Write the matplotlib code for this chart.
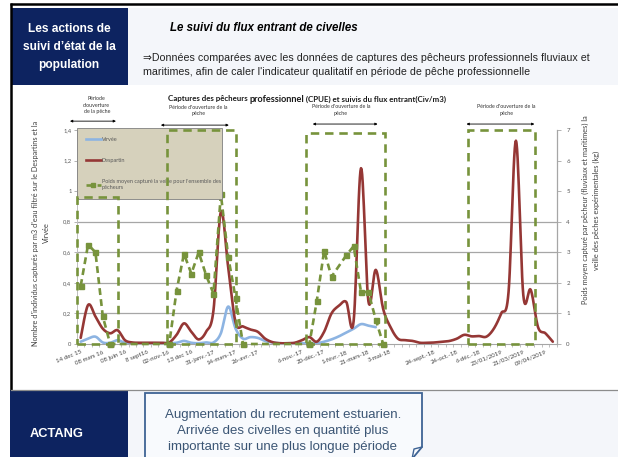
import numpy as np
import matplotlib
matplotlib.use("Agg")
import matplotlib.pyplot as plt
from matplotlib.patches import Rectangle, Polygon
from matplotlib.lines import Line2D

# ---------------- data ----------------
# category labels (one label every third sampling date, some left blank)
date_labels = ["14 dec 15", "08 mars 16", "08 juin 16", "8 sept16", "02-nov-16",
               "13 dec 16", "31-janv.-17", "14-mars-17", "26-avr.-17", "",
               "6-nov.-17", "20-déc.-17", "1-févr.-18", "21-mars-18", "3-mai-18",
               "", "24-sept.-18", "24-oct.-18", "6-déc.-18", "23/01/2019",
               "21/03/2019", "09/04/2019"]
label_step = 3

# glass eels per m3 filtered - Despartins
despartin = [0.04, 0.255, 0.18, 0.10, 0.07, 0.09, 0.025, 0.01, 0.008, 0.008,
             0.008, 0.008, 0.01, 0.06, 0.135, 0.08, 0.03, 0.08, 0.22, 0.865,
             0.50, 0.14, 0.115, 0.095, 0.08, 0.035, 0.012, 0.005, 0.005, 0.008,
             0.025, 0.045, 0.015, 0.08, 0.20, 0.25, 0.275, 0.15, 1.15, 0.28,
             0.485, 0.23, 0.11, 0.035, 0.025, 0.02, 0.008, 0.008, 0.01, 0.015,
             0.02, 0.035, 0.06, 0.05, 0.052, 0.048, 0.10, 0.20, 0.34, 1.33,
             0.32, 0.355, 0.11, 0.07, 0.015]

# glass eels per m3 filtered - Virvée
nan = np.nan
virvee = [0.015, 0.035, 0.048, 0.01, 0.008, 0.025, 0.008, 0.005, 0.005, 0.005,
          0.005, 0.005, 0.005, 0.008, 0.02, 0.008, 0.005, 0.01, 0.01, 0.07,
          0.245, 0.10, 0.035, 0.045, 0.04, 0.02, 0.01, 0.005, 0.005, 0.005,
          0.005, 0.005, 0.005, 0.015, 0.03, 0.05, 0.075, 0.10, 0.13, 0.12,
          0.11, nan, nan, nan, nan, nan, nan, nan, nan, nan,
          nan, nan, nan, nan, nan, nan, nan, nan, nan, nan,
          nan, nan, nan, nan, nan]

# mean catch per fisher the day before (kg)
poids = [1.9, 3.25, 3.0, 0.9, 0.0, nan, nan, nan, nan, nan,
         nan, nan, 0.0, 1.75, 2.95, 2.3, 3.0, 2.25, 1.65, 4.9,
         2.85, 1.5, 0.0, nan, nan, nan, nan, nan, nan, nan,
         nan, 0.0, 1.4, 3.05, 2.2, nan, 2.9, 3.2, 1.7, 1.7,
         0.8, 0.0, nan, nan, nan, nan, nan, nan, nan, nan,
         nan, nan, nan, nan, nan, nan, nan, nan, nan, nan,
         nan, nan, nan, nan, nan]

# professional fishing seasons (category bounds, left-axis height)
season_start = [-0.5, 11.65, 30.5, 52.5]
season_end = [5.1, 21.1, 41.25, 61.6]
season_top = [0.96, 1.4, 1.38, 1.4]

left_ticks = [0, 0.2, 0.4, 0.6, 0.8, 1.0, 1.2, 1.4]
right_ticks = [0, 1, 2, 3, 4, 5, 6, 7]
grid_levels = [0.2, 0.4, 0.6, 0.8]

# ---------------- style ----------------
NAVY = "#0D2360"
PALE = "#F4F6FA"
RED = "#953735"
BLUE = "#8DB4E2"
GREEN = "#77933C"
GREY_TXT = "#595959"
SLIDE_FONT = ["Liberation Sans", "DejaVu Sans"]
CHART_FONT = ["Lato", "DejaVu Sans"]


def smooth_runs(y, steps=14):
    """Bezier smoothing between consecutive points (spreadsheet-style)."""
    y = np.asarray(y, float)
    x = np.arange(len(y), dtype=float)
    ok = ~np.isnan(y)
    xs_all, ys_all = [], []
    idx = np.where(ok)[0]
    if len(idx) == 0:
        return np.array([]), np.array([])
    runs = np.split(idx, np.where(np.diff(idx) != 1)[0] + 1)
    t = np.linspace(0, 1, steps)[:, None]
    for run in runs:
        P = np.column_stack([x[run], y[run]])
        n = len(P)
        pts = [P[:1]]
        for i in range(n - 1):
            p0 = P[i - 1] if i > 0 else P[i]
            p1, p2 = P[i], P[i + 1]
            p3 = P[i + 2] if i + 2 < n else P[i + 1]
            c1 = p1 + (p2 - p0) / 6.0
            c2 = p2 - (p3 - p1) / 6.0
            seg = ((1 - t) ** 3) * p1 + 3 * ((1 - t) ** 2) * t * c1 \
                + 3 * (1 - t) * t ** 2 * c2 + t ** 3 * p2
            pts.append(seg[1:])
        pts = np.vstack(pts)
        xs_all.append(pts[:, 0]); ys_all.append(pts[:, 1])
        xs_all.append([np.nan]); ys_all.append([np.nan])
    return np.concatenate(xs_all), np.concatenate(ys_all)


fig = plt.figure(figsize=(6.18, 4.57), dpi=100)
fig.patch.set_facecolor("white")

# slide background layer in pixel units
bg = fig.add_axes([0, 0, 1, 1])
bg.set_xlim(0, 618)
bg.set_ylim(457, 0)
bg.axis("off")
bg.set_zorder(0)

bg.add_patch(Rectangle((128, 8), 490, 77, color=PALE, lw=0))
bg.add_patch(Rectangle((12, 8), 116, 77, color=NAVY, lw=0))
bg.add_patch(Rectangle((128, 390), 490, 67, color=PALE, lw=0))
bg.add_patch(Rectangle((10, 390), 118, 67, color=NAVY, lw=0))
bg.plot([10, 618], [3.5, 3.5], color="black", lw=1.8, solid_capstyle="butt")
bg.plot([11, 11], [3, 390], color="black", lw=1.8, solid_capstyle="butt")
bg.plot([11, 618], [389.5, 389.5], color="#8C8C8C", lw=0.9)

bg.text(69, 47, "Les actions de\nsuivi d’état de la\npopulation", color="white",
        weight="bold", fontsize=8.6, ha="center", va="center", linespacing=1.72,
        family=SLIDE_FONT)
bg.text(170, 28, "Le suivi du flux entrant de civelles", weight="bold",
        style="italic", fontsize=8.3, ha="left", va="center", family=SLIDE_FONT)
bg.text(143, 65, "⇒Données comparées avec les données de captures des pêcheurs "
        "professionnels fluviaux et\nmaritimes, afin de caler l'indicateur "
        "qualitatif en période de pêche professionnelle",
        fontsize=7.7, ha="left", va="center", linespacing=1.5, color="#222222",
        family=SLIDE_FONT)

bg.text(30, 434, "ACTANG", color="white", weight="bold", fontsize=9.3,
        ha="left", va="center", family=SLIDE_FONT)
bg.add_patch(Polygon([(145, 393), (422, 393), (422, 447), (412, 459), (145, 459)],
                     closed=True, facecolor="#F8FAFD", edgecolor="#3E6394", lw=1.3))
bg.plot([412, 414, 422], [459, 449, 447], color="#3E6394", lw=1.0)
bg.text(283, 431, "Augmentation du recrutement estuarien.\nArrivée des civelles en "
        "quantité plus\nimportante sur une plus longue période", color="#3B5574",
        fontsize=9.5, ha="center", va="center", linespacing=1.4, family=SLIDE_FONT)

# axis titles
bg.text(41, 233, "Nombre d'individus capturés par m3 d'eau filtré sur le Despartins et la\nVirvée",
        rotation=90, ha="center", va="center", fontsize=5.3, color="#404040",
        linespacing=1.7, family=CHART_FONT)
bg.text(591, 210, "Poids moyen capturé par pêcheur (fluviaux et maritimes) la\n"
        "veille des pêches expérimentales (kg)",
        rotation=90, ha="center", va="center", fontsize=5.3, color="#404040",
        linespacing=1.5, family=CHART_FONT)

# ---------------- chart ----------------
n = len(despartin)
x = np.arange(n)
ax = fig.add_axes([77 / 618, 1 - 344 / 457, 479.5 / 618, 214 / 457])
ax.set_zorder(1)
ax.patch.set_visible(False)
ax.set_xlim(-0.5, n - 0.5)
ax.set_ylim(0, 1.4)

for g in grid_levels:
    ax.axhline(g, color="#A6A6A6", lw=0.9, zorder=0)

xs, ys = smooth_runs(virvee)
ax.plot(xs, ys, color=BLUE, lw=1.9, zorder=2, solid_capstyle="round")
xs, ys = smooth_runs(despartin)
ax.plot(xs, ys, color=RED, lw=1.9, zorder=3, solid_capstyle="round")

for s in ["top", "right"]:
    ax.spines[s].set_visible(False)
ax.spines["left"].set_color("#BFBFBF")
ax.spines["left"].set_linewidth(0.7)
ax.spines["bottom"].set_color("#A6A6A6")
ax.spines["bottom"].set_linewidth(0.8)

ax.set_yticks(left_ticks)
ax.set_yticklabels([f"{v:g}".replace(".", ",") for v in left_ticks])
ax.tick_params(axis="y", length=2, width=0.6, color="#A6A6A6", pad=2,
               labelsize=4.2, labelcolor=GREY_TXT)
for lab in ax.get_yticklabels():
    lab.set_family(CHART_FONT)

label_pos = np.arange(0, n, label_step)[:len(date_labels)]
ax.set_xticks(label_pos)
ax.set_xticklabels(date_labels, rotation=22, ha="right", va="top",
                   rotation_mode="anchor", fontsize=4.4, color="#404040",
                   family=CHART_FONT)
ax.tick_params(axis="x", which="major", length=0, pad=4)
ax.set_xticks(np.arange(-0.5, n, 1.0), minor=True)
ax.tick_params(axis="x", which="minor", length=2.5, width=0.5, color="#A6A6A6")

# secondary axis: mean catch
ax2 = ax.twinx()
ax2.set_zorder(2)
ax2.patch.set_visible(False)
ax2.set_ylim(0, 7)
ax2.set_yticks(right_ticks)
ax2.tick_params(axis="y", length=3, width=0.6, color="#A6A6A6", pad=4,
                labelsize=4.4, labelcolor=GREY_TXT)
for lab in ax2.get_yticklabels():
    lab.set_family(CHART_FONT)
for s in ["top", "left", "bottom"]:
    ax2.spines[s].set_visible(False)
ax2.spines["right"].set_color("#A6A6A6")
ax2.spines["right"].set_linewidth(0.9)

p = np.asarray(poids, float)
ok = ~np.isnan(p)
ax2.plot(x[ok], p[ok], color=GREEN, lw=1.9, dashes=(2.6, 1.6),
         marker="s", markersize=3.6, markerfacecolor=GREEN,
         markeredgecolor=GREEN, zorder=3, clip_on=False)

handles = [Line2D([], [], color=BLUE, lw=1.9),
           Line2D([], [], color=RED, lw=1.9),
           Line2D([], [], color=GREEN, lw=1.9, dashes=(2.6, 1.6), marker="s",
                  markersize=3.2)]
labels = ["Virvée", "Despartin",
          "Poids moyen capturé la veille pour l'ensemble des\npêcheurs"]
leg = ax2.legend(handles, labels, loc="upper left",
                 bbox_to_anchor=(0, 0.684, 0.302, 0.325), mode="expand",
                 borderaxespad=0, fontsize=4, labelspacing=2.95, handlelength=2.8,
                 handletextpad=0.1, borderpad=1.55, frameon=True, fancybox=False,
                 framealpha=1, facecolor="#D6D1BC", edgecolor="#7F7F7F",
                 labelcolor=GREY_TXT, prop={"family": CHART_FONT, "size": 4})
leg.get_frame().set_linewidth(0.6)
leg.set_zorder(5)

# fishing season frames, drawn over the plot
for s0, s1, top in zip(season_start, season_end, season_top):
    ax2.add_patch(Rectangle((s0, 0), s1 - s0, top, transform=ax.transData,
                            fill=False, edgecolor=GREEN, lw=1.9,
                            linestyle=(0, (3.2, 2.2)), zorder=6, clip_on=False))

# season annotations above the plot
arrow_y = [1.458, 1.432, 1.439, 1.439]
arrow_x0 = [-1.45, 10.87, 31.46, 52.3]
arrow_x1 = [4.78, 20.08, 40.25, 61.5]
text_x = [2.17, 15.95, 35.3, 57.7]
text_y = [1.563, 1.528, 1.533, 1.533]
text_lab = ["Période\nd'ouverture\nde la pêche",
            "Période d'ouverture de la\npêche",
            "Période d'ouverture de la\npêche",
            "Période d'ouverture de la\npêche"]
for y0, a0, a1, tx, ty, tl in zip(arrow_y, arrow_x0, arrow_x1, text_x, text_y, text_lab):
    ax.annotate("", xy=(a1, y0), xytext=(a0, y0), xycoords="data",
                arrowprops=dict(arrowstyle="<|-|>", color="black", lw=0.6,
                                mutation_scale=3.5, shrinkA=0, shrinkB=0),
                annotation_clip=False)
    ax.text(tx, ty, tl, ha="center", va="center", fontsize=3.8, color="#333333",
            linespacing=1.45, family=CHART_FONT)

# chart title with a larger middle word
fig.canvas.draw()
renderer = fig.canvas.get_renderer()
parts = [("Captures des pêcheurs ", 5.7), ("professionnel", 6.6),
         (" (CPUE) et suivis du flux entrant(Civ/m3)", 5.7)]
cur = 168
for txt, size in parts:
    t = bg.text(cur, 101.5, txt, fontsize=size, weight="bold", ha="left",
                va="baseline", family=CHART_FONT, color="#1A1A1A")
    bb = t.get_window_extent(renderer)
    cur = cur + bb.width

fig.savefig("out.png", dpi=100, facecolor="white")
